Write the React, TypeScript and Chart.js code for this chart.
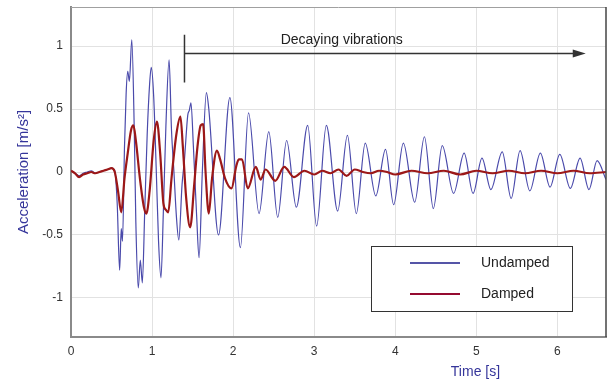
import React, { useEffect, useRef } from "react";
import { Chart, registerables } from "chart.js";

Chart.register(...registerables);

// ---- Data ----
const undampedT = [
  0.0, 0.05, 0.1, 0.15, 0.2, 0.25, 0.3, 0.35, 0.4, 0.45, 0.5, 0.54, 0.57, 0.6, 0.62, 0.635,
  0.66, 0.68, 0.7, 0.72, 0.75, 0.78, 0.8, 0.83, 0.855, 0.88, 0.91, 0.94, 0.97, 0.99, 1.02,
  1.05, 1.08, 1.11, 1.14, 1.17, 1.21, 1.24, 1.27, 1.3, 1.33, 1.37, 1.4, 1.44, 1.46, 1.48,
  1.51, 1.55, 1.58, 1.62, 1.67, 1.7, 1.82, 1.96, 2.09, 2.19, 2.32, 2.44, 2.55, 2.66, 2.78,
  2.92, 3.03, 3.15, 3.29, 3.41, 3.52, 3.63, 3.76, 3.88, 3.98, 4.1, 4.24, 4.36, 4.47, 4.58,
  4.72, 4.85, 4.96, 5.07, 5.18, 5.32, 5.43, 5.54, 5.66, 5.79, 5.91, 6.03, 6.16, 6.28, 6.39,
  6.49, 6.6,
];
const undampedV = [
  0.01, -0.01, -0.03, -0.01, 0.0, 0.01, -0.01, 0.0, 0.01, 0.02, 0.03, 0.01, -0.25, -0.78, -0.45, -0.55,
  0.2, 0.62, 0.8, 0.72, 1.05, 0.35, -0.4, -0.92, -0.7, -0.88, -0.3, 0.3, 0.7, 0.83, 0.6,
  0.05, -0.55, -0.84, -0.3, 0.35, 0.89, 0.33, 0.0, -0.35, -0.54, -0.1, 0.1, 0.45, 0.49, 0.55,
  0.2, -0.35, -0.68, 0.0, 0.63, 0.5, -0.5, 0.59, -0.6, 0.47, -0.33, 0.32, -0.36, 0.25, -0.28,
  0.37, -0.43, 0.37, -0.31, 0.29, -0.33, 0.23, -0.19, 0.18, -0.26, 0.23, -0.24, 0.28, -0.29, 0.21,
  -0.17, 0.15, -0.17, 0.11, -0.14, 0.16, -0.21, 0.17, -0.15, 0.15, -0.12, 0.14, -0.13, 0.11, -0.14,
  0.09, -0.06,
];

const dampedT = [
  0.0, 0.05, 0.1, 0.15, 0.2, 0.25, 0.3, 0.35, 0.4, 0.45, 0.5, 0.54, 0.58, 0.62, 0.66, 0.7,
  0.74, 0.77, 0.8, 0.85, 0.9, 0.93, 0.97, 1.02, 1.06, 1.1, 1.14, 1.17, 1.2, 1.24, 1.3, 1.35,
  1.38, 1.42, 1.47, 1.52, 1.56, 1.6, 1.63, 1.66, 1.7, 1.74, 1.8, 1.84, 1.9, 1.98, 2.04, 2.07,
  2.11, 2.18, 2.28, 2.34, 2.4, 2.52, 2.63, 2.75, 2.88, 3.0, 3.1, 3.2, 3.3, 3.4, 3.5, 3.6, 3.7,
  3.8, 3.9, 4.0, 4.2, 4.4, 4.6, 4.8, 5.0, 5.2, 5.4, 5.6, 5.8, 6.0, 6.2, 6.4, 6.6,
];
const dampedV = [
  0.01, -0.01, -0.04, -0.02, -0.01, 0.0, -0.01, 0.0, 0.01, 0.02, 0.03, 0.0, -0.15, -0.32, -0.05, 0.15,
  0.33, 0.37, 0.25, -0.05, -0.28, -0.33, -0.15, 0.25, 0.4, 0.15, -0.25, -0.3, -0.32, -0.05, 0.3, 0.44,
  0.2, -0.2, -0.44, -0.1, 0.2, 0.37, 0.38, 0.0, -0.33, -0.05, 0.17, 0.1, -0.05, -0.13, 0.05, 0.1,
  0.1, -0.13, 0.04, -0.06, 0.02, -0.07, 0.04, -0.04, 0.01, -0.02, 0.01, -0.01, 0.02, -0.03, 0.02, 0.0, -0.01,
  0.01, 0.0, -0.02, 0.01, -0.01, 0.01, -0.02, 0.01, -0.01, 0.01, -0.01, 0.01, -0.01, 0.01, -0.01, 0.0,
];

const seriesLabels = ["Undamped", "Damped"];
const xTitle = "Time [s]";
const yTitle = "Acceleration [m/s²]";
const annotationText = "Decaying vibrations";
const annotationStartT = 1.4;
const annotationEndT = 6.35;
const annotationArrowY = 0.94;
const annotationBarTop = 1.09;
const annotationBarBottom = 0.71;
const annotationTextT = 3.34;
const annotationTextY = 1.05;

const BLUE = "#4a4aab";
const RED = "#9c1818";
const FONT = "'Liberation Sans', Arial, sans-serif";

const framePlugin = {
  id: "frameAndExtras",
  afterDraw(chart: any) {
    const { ctx, chartArea } = chart;
    const xs = chart.scales.x;
    const ys = chart.scales.y;
    ctx.save();
    // top and right frame
    ctx.strokeStyle = "#a0a0a0";
    ctx.lineWidth = 1;
    ctx.beginPath();
    ctx.moveTo(chartArea.left, chartArea.top + 0.5);
    ctx.lineTo(chartArea.right, chartArea.top + 0.5);
    ctx.stroke();
    ctx.strokeStyle = "#444";
    ctx.lineWidth = 1.5;
    ctx.beginPath();
    ctx.moveTo(chartArea.right, chartArea.top);
    ctx.lineTo(chartArea.right, chartArea.bottom);
    ctx.stroke();

    // annotation
    const x0 = xs.getPixelForValue(annotationStartT);
    const x1 = xs.getPixelForValue(annotationEndT);
    const ya = ys.getPixelForValue(annotationArrowY);
    ctx.strokeStyle = "#333";
    ctx.fillStyle = "#333";
    ctx.lineWidth = 1.5;
    ctx.beginPath();
    ctx.moveTo(x0, ys.getPixelForValue(annotationBarTop));
    ctx.lineTo(x0, ys.getPixelForValue(annotationBarBottom));
    ctx.moveTo(x0, ya);
    ctx.lineTo(x1 - 10, ya);
    ctx.stroke();
    ctx.beginPath();
    ctx.moveTo(x1, ya);
    ctx.lineTo(x1 - 13, ya - 4);
    ctx.lineTo(x1 - 13, ya + 4);
    ctx.closePath();
    ctx.fill();
    ctx.font = `14px ${FONT}`;
    ctx.fillStyle = "#222";
    ctx.textAlign = "center";
    ctx.textBaseline = "middle";
    ctx.fillText(annotationText, xs.getPixelForValue(annotationTextT), ys.getPixelForValue(annotationTextY));

    // legend box
    const lx = chartArea.left + 300;
    const ly = chartArea.top + 239;
    const lw = 201;
    const lh = 65;
    ctx.fillStyle = "#fff";
    ctx.fillRect(lx, ly, lw, lh);
    ctx.strokeStyle = "#333";
    ctx.lineWidth = 1;
    ctx.strokeRect(lx + 0.5, ly + 0.5, lw, lh);
    const colors = ["#1c1c8a", "#950a30"];
    const widths = [1.5, 2];
    seriesLabels.forEach((lab, i) => {
      const yy = ly + 17 + i * 31;
      ctx.strokeStyle = colors[i];
      ctx.lineWidth = widths[i];
      ctx.beginPath();
      ctx.moveTo(lx + 39, yy);
      ctx.lineTo(lx + 89, yy);
      ctx.stroke();
      ctx.fillStyle = "#222";
      ctx.textAlign = "left";
      ctx.textBaseline = "middle";
      ctx.font = `14px ${FONT}`;
      ctx.fillText(lab, lx + 110, yy);
    });

    // x title
    ctx.font = `14px ${FONT}`;
    ctx.fillStyle = "#35359a";
    ctx.textAlign = "center";
    ctx.textBaseline = "middle";
    ctx.fillText(xTitle, chartArea.left + (chartArea.right - chartArea.left) * 0.756, 372);
    ctx.restore();
  },
};

export default function App() {
  const ref = useRef<HTMLCanvasElement | null>(null);
  useEffect(() => {
    if (!ref.current) return;
    const chart = new Chart(ref.current, {
      type: "line",
      data: {
        datasets: [
          {
            label: seriesLabels[1],
            data: dampedT.map((t, i) => ({ x: t, y: dampedV[i] })),
            borderColor: RED,
            borderWidth: 2.2,
            pointRadius: 0,
            cubicInterpolationMode: "monotone",
            order: 0,
          },
          {
            label: seriesLabels[0],
            data: undampedT.map((t, i) => ({ x: t, y: undampedV[i] })),
            borderColor: BLUE,
            borderWidth: 1.2,
            pointRadius: 0,
            cubicInterpolationMode: "monotone",
            order: 1,
          },
        ],
      },
      options: {
        responsive: false,
        maintainAspectRatio: false,
        devicePixelRatio: 1,
        animation: false,
        layout: { padding: { top: 7, right: 1, left: 0, bottom: 0 } },
        plugins: { legend: { display: false }, tooltip: { enabled: false } },
        scales: {
          x: {
            type: "linear",
            min: 0,
            max: 6.6,
            ticks: {
              stepSize: 1,
              includeBounds: false,
              padding: 7,
              color: "#333",
              font: { size: 12, family: FONT },
              maxRotation: 0,
            },
            grid: { color: "#e2e2e2", drawTicks: false },
            border: { color: "#8a8a8a", width: 2 },
            afterFit: (s: any) => {
              s.height = 44;
              s.paddingLeft = 0;
              s.paddingRight = 0;
            },
          },
          y: {
            type: "linear",
            min: -1.31,
            max: 1.31,
            ticks: {
              stepSize: 0.5,
              includeBounds: false,
              padding: 8,
              color: "#333",
              font: { size: 12, family: FONT },
              callback: (v: any) => String(v),
            },
            grid: { color: "#e2e2e2", drawTicks: false },
            border: { color: "#8a8a8a", width: 2 },
            title: {
              display: true,
              text: yTitle,
              color: "#35359a",
              font: { size: 15, family: FONT },
              padding: { top: 15, bottom: 0 },
            },
            afterFit: (s: any) => {
              s.width = 71;
              s.paddingTop = 0;
              s.paddingBottom = 0;
            },
          },
        },
      },
      plugins: [framePlugin],
    });
    return () => chart.destroy();
  }, []);
  return (
    <div style={{ position: "fixed", left: 0, top: 0, width: 607, height: 381, background: "#fff" }}>
      <canvas ref={ref} width={607} height={381} style={{ display: "block", width: 607, height: 381 }} />
    </div>
  );
}
